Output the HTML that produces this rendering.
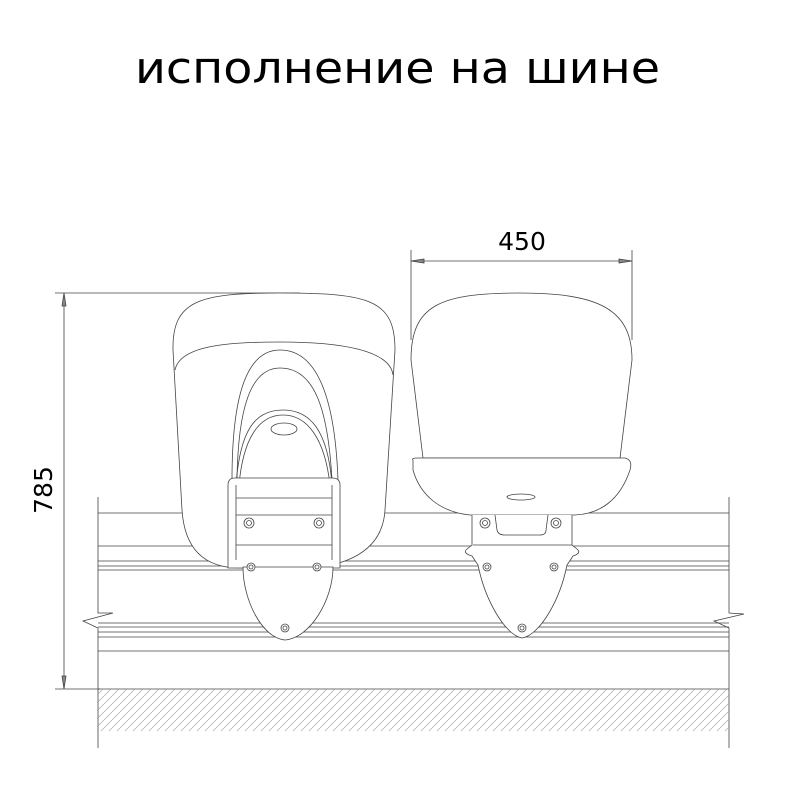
<!DOCTYPE html>
<html><head><meta charset="utf-8"><style>
html,body{margin:0;padding:0;background:#fff;}
svg{display:block}
</style></head><body>
<svg width="800" height="800" viewBox="0 0 800 800" xmlns="http://www.w3.org/2000/svg">
<defs>
<pattern id="h" width="8" height="8" patternUnits="userSpaceOnUse">
<path d="M0 8 L8 0" stroke="#999" stroke-width="0.6"/>
</pattern>
</defs>
<rect width="800" height="800" fill="#fff"/>
<text x="135" y="83" textLength="525" lengthAdjust="spacingAndGlyphs" font-family="DejaVu Sans, Liberation Sans, sans-serif" font-size="44" fill="#000">исполнение на шине</text>

<g fill="none" stroke="#444" stroke-width="0.8">
<line x1="55" y1="293" x2="300" y2="293"/>
<line x1="55" y1="689" x2="100" y2="689"/>
<line x1="64" y1="293" x2="64" y2="689"/>
<path d="M62 306 L64 293 L66 306 Z" fill="#888"/>
<path d="M62 676 L64 689 L66 676 Z" fill="#888"/>
<line x1="411" y1="250" x2="411" y2="340"/>
<line x1="632" y1="250" x2="632" y2="340"/>
<line x1="411" y1="261" x2="632" y2="261"/>
<path d="M424 259 L411 261 L424 263 Z" fill="#888"/>
<path d="M619 259 L632 261 L619 263 Z" fill="#888"/>

<path d="M98 497 L98 613 L113 613 L83 621 L98 628 L98 748"/>
<path d="M729 497 L729 613 L744 614 L714 621 L729 628 L729 748"/>
<line x1="98" y1="513" x2="729" y2="513"/>
<line x1="98" y1="546" x2="729" y2="546"/>
<line x1="98" y1="561" x2="729" y2="561"/>
<line x1="98" y1="566" x2="729" y2="566"/>
<line x1="98" y1="570" x2="729" y2="570"/>
<line x1="98" y1="623" x2="729" y2="623"/>
<line x1="98" y1="627" x2="729" y2="627"/>
<line x1="98" y1="632" x2="729" y2="632"/>
<line x1="98" y1="637" x2="729" y2="637"/>
<line x1="98" y1="651" x2="729" y2="651"/>
<line x1="98" y1="689" x2="729" y2="689"/>
</g>
<rect x="98" y="689" width="631" height="42" fill="url(#h)"/>

<g fill="#fff" stroke="#444" stroke-width="0.8">
<path d="M173 350 C172 300 200 293 280 293 C370 293 395 300 395 350 L385 510 C382 560 330 568 300 568 L240 568 C210 568 185 555 182 510 Z"/>
<path d="M175 370 C180 345 230 342 280 342 C340 342 390 350 393 375" fill="none"/>
<path d="M232 480 C232 400 245 350 280 350 C318 350 335 400 338 480" fill="none"/>
<path d="M237 480 C238 410 250 368 280 368 C315 368 328 410 332 480" fill="none"/>
<path d="M236 485 C240 430 255 410 283 410 C310 410 328 430 332 485" fill="none"/>
<path d="M239 485 C243 440 258 415 283 415 C308 415 325 440 330 485" fill="none"/>
<ellipse cx="284" cy="429" rx="13" ry="6"/>
<path d="M228 568 L228 485 Q228 478 235 478 L332 478 Q340 478 340 485 L340 568 Z"/>
<line x1="236" y1="498" x2="332" y2="498"/>
<line x1="236" y1="515" x2="332" y2="515"/>
<line x1="236" y1="545" x2="332" y2="545"/>
<line x1="236" y1="485" x2="236" y2="560"/>
<line x1="332" y1="485" x2="332" y2="560"/>
<path d="M243 567 L333 567 C333 600 310 638 285 640 C262 638 243 600 243 567 Z"/>

<path d="M411 360 C411 305 440 293 520 293 C600 293 632 310 632 360 L620 458 L423 458 Z"/>
<path d="M413 460 Q411 458 418 458 L625 458 Q633 460 630 470 C620 500 600 514 575 515 L470 515 C440 512 420 495 413 470 Z"/>
<ellipse cx="521" cy="497" rx="14" ry="3"/>
<path d="M472 515 L472 545 L467 549 Q462 553 472 556 L478 565 C485 600 505 635 522 638 C540 635 560 600 567 565 L573 556 Q582 553 577 549 L572 545 L572 515"/>
<line x1="473" y1="545" x2="572" y2="545"/>
<path d="M495 515 L497 530 Q498 535 505 535 L540 535 Q546 535 546 530 L548 515" fill="none"/>
</g>

<g fill="#fff" stroke="#444" stroke-width="0.8">
<circle cx="249" cy="523" r="5"/><circle cx="249" cy="523" r="2.5"/>
<circle cx="319" cy="523" r="5"/><circle cx="319" cy="523" r="2.5"/>
<circle cx="251" cy="567" r="4"/><circle cx="251" cy="567" r="2"/>
<circle cx="317" cy="567" r="4"/><circle cx="317" cy="567" r="2"/>
<circle cx="285" cy="628" r="4"/><circle cx="285" cy="628" r="2"/>
<circle cx="485" cy="523" r="5"/><circle cx="485" cy="523" r="2.5"/>
<circle cx="556" cy="523" r="5"/><circle cx="556" cy="523" r="2.5"/>
<circle cx="487" cy="567" r="4"/><circle cx="487" cy="567" r="2"/>
<circle cx="554" cy="567" r="4"/><circle cx="554" cy="567" r="2"/>
<circle cx="522" cy="628" r="4"/><circle cx="522" cy="628" r="2"/>
</g>

<text x="522" y="250" text-anchor="middle" font-family="DejaVu Sans, Liberation Sans, sans-serif" font-size="25" fill="#000">450</text>
<text transform="translate(52,490) rotate(-90)" text-anchor="middle" font-family="DejaVu Sans, Liberation Sans, sans-serif" font-size="25" fill="#000">785</text>
</svg>
</body></html>
